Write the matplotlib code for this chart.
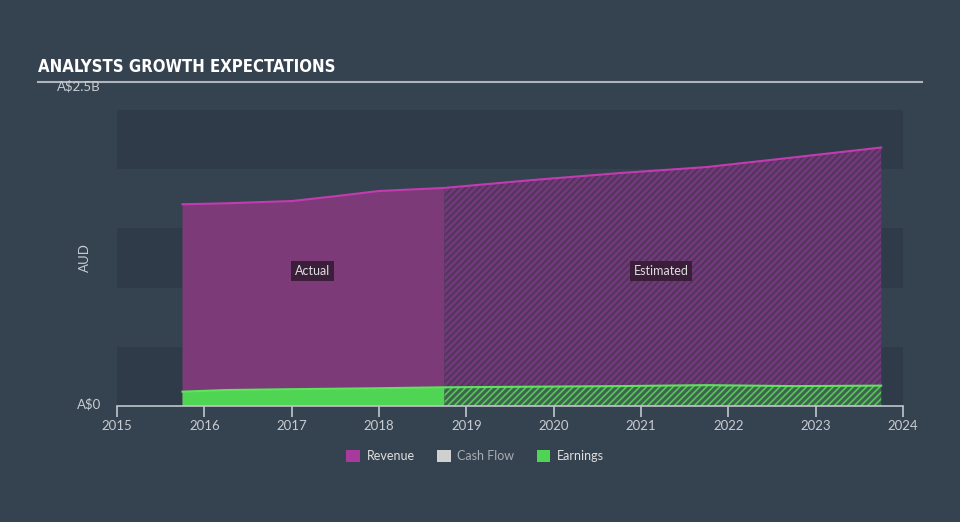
import matplotlib
matplotlib.use("Agg")
import matplotlib.pyplot as plt
from matplotlib.patches import Patch
from matplotlib.lines import Line2D

# values in A$ billions, x in fractional years
rev_actual_x = [2015.75, 2016.25, 2016.75, 2017.0, 2017.5, 2018.0, 2018.75]
rev_actual = [1.704, 1.712, 1.725, 1.731, 1.772, 1.816, 1.842]
rev_est_x = [2018.75, 2019.75, 2020.75, 2021.75, 2022.75, 2023.75]
rev_est = [1.842, 1.908, 1.967, 2.018, 2.100, 2.183]

earn_actual_x = [2015.75, 2016.25, 2017.0, 2018.0, 2018.75]
earn_actual = [0.121, 0.135, 0.142, 0.150, 0.158]
earn_est_x = [2018.75, 2019.75, 2020.75, 2021.75, 2022.75, 2023.75]
earn_est = [0.158, 0.163, 0.168, 0.176, 0.168, 0.172]

years = list(range(2015, 2025))
legend_labels = ["Revenue", "Cash Flow", "Earnings"]

bg = "#35424f"
band = "#2f3b49"
txt = "#c8ccd2"
rev_line = "#c23cb0"
rev_fill = "#7c3a78"
earn_fill = "#4fd453"
earn_line = "#5ee35c"

plt.rcParams["font.family"] = ["Lato", "DejaVu Sans"]
plt.rcParams["hatch.linewidth"] = 1.2

fig = plt.figure(figsize=(9.6, 5.22), dpi=100, facecolor=bg)
ax = fig.add_axes([117 / 960, 1 - 406 / 522, 786 / 960, 296 / 522])
ax.set_facecolor(bg)
ax.set_xlim(2015, 2024)
ax.set_ylim(0, 2.5)

for lo in (0, 1.0, 2.0):
    ax.axhspan(lo, lo + 0.5, color=band, lw=0, zorder=0)

# revenue
ax.fill_between(rev_actual_x, 0, rev_actual, facecolor=rev_fill, lw=0, zorder=1)
ax.fill_between(rev_est_x, 0, rev_est, facecolor="#72387a", edgecolor="#4c3557",
                hatch="/////", lw=0, zorder=1)
ax.plot(rev_actual_x + rev_est_x, rev_actual + rev_est, color=rev_line, lw=1.5, zorder=3)

# earnings
ax.fill_between(earn_actual_x, 0, earn_actual, facecolor=earn_fill, lw=0, zorder=2)
ax.fill_between(earn_est_x, 0, earn_est, facecolor="#3f6450", edgecolor="#56c858",
                hatch="/////", lw=0, zorder=2)
ax.plot(earn_actual_x + earn_est_x, earn_actual + earn_est, color=earn_line, lw=1.5, zorder=3)

for s in ("top", "right", "left"):
    ax.spines[s].set_visible(False)
ax.spines["bottom"].set_color("#c0c5cc")
ax.spines["bottom"].set_linewidth(1.2)
ax.set_yticks([])
ax.set_xticks(years)
ax.tick_params(axis="x", colors="#c0c5cc", length=8, width=1.2, labelsize=9.5,
               labelcolor=txt, pad=2)

box = dict(boxstyle="square,pad=0.3", facecolor="#3b1f3a", edgecolor="none")
ax.text(2017.24, 1.14, "Actual", color="#dddddd", fontsize=9, ha="center", va="center", bbox=box)
ax.text(2021.23, 1.14, "Estimated", color="#dddddd", fontsize=9, ha="center", va="center", bbox=box)

# title and rule
fig.text(38 / 960, 1 - 67 / 522, "ANALYSTS GROWTH EXPECTATIONS", color="white",
         fontsize=12, fontweight="bold", fontstretch="condensed", va="center",
         family=["DejaVu Sans"])
fig.add_artist(Line2D([38 / 960, 922 / 960], [1 - 82 / 522, 1 - 82 / 522],
                      color="#b0b4bb", lw=1.5))

fig.text(101 / 960, 1 - 86 / 522, "A$2.5B", color=txt, fontsize=9.5, ha="right", va="center")
fig.text(101 / 960, 1 - 404 / 522, "A$0", color=txt, fontsize=9.5, ha="right", va="center")
fig.text(85 / 960, 1 - 258 / 522, "AUD", color=txt, fontsize=9.5, rotation=90,
         ha="center", va="center")

handles = [Patch(facecolor="#a93a9c"), Patch(facecolor="#d0d0d0"), Patch(facecolor=earn_fill)]
leg = fig.legend(handles, legend_labels, loc="center", bbox_to_anchor=(475 / 960, 1 - 456 / 522),
                 ncol=3, frameon=False, fontsize=9, handlelength=1.1, handleheight=1.1,
                 handletextpad=0.5, columnspacing=1.8)
for t, c in zip(leg.get_texts(), ["#e0e0e0", "#a8adb5", "#e0e0e0"]):
    t.set_color(c)

fig.savefig("out.png", dpi=100, facecolor=bg)
